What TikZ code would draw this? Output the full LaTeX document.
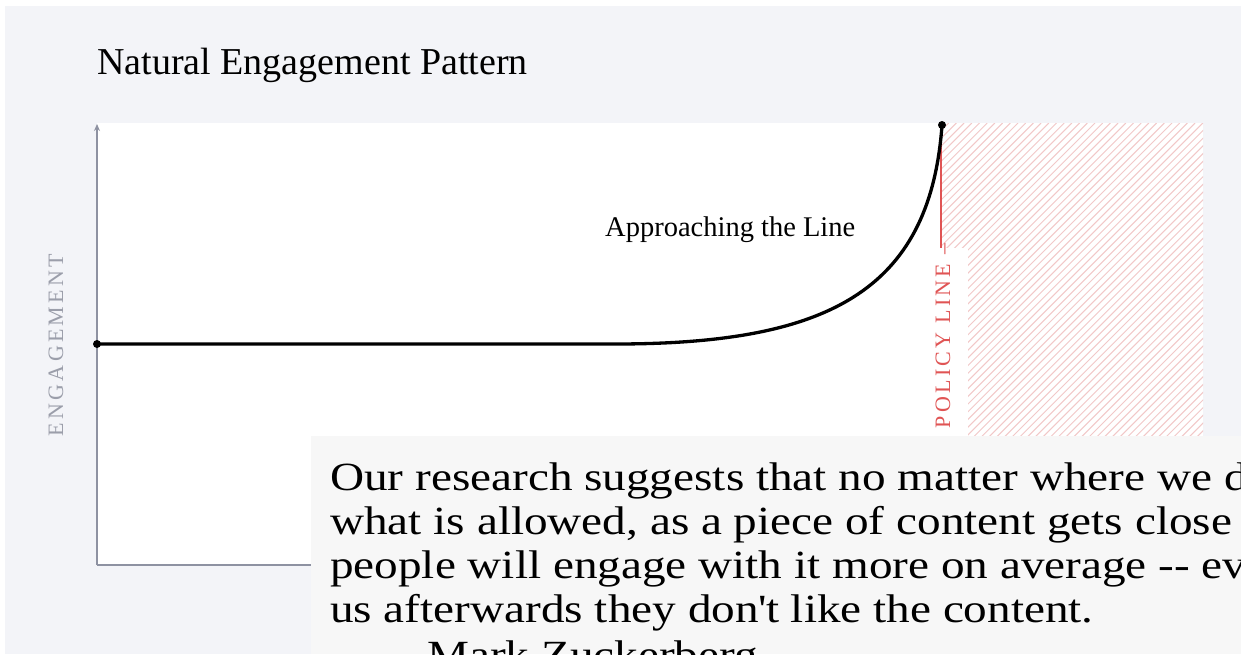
\documentclass[tikz,border=0pt]{standalone}
\usepackage{fontspec}
\setmainfont{Liberation Serif}
\usetikzlibrary{arrows.meta}
\definecolor{pagebg}{RGB}{243,244,248}
\definecolor{quotebg}{RGB}{247,247,247}
\definecolor{axisgray}{RGB}{142,146,162}
\definecolor{labelgray}{RGB}{155,158,170}
\definecolor{policyred}{RGB}{224,84,84}
\definecolor{hatchpink}{RGB}{242,200,200}

\begin{document}
\begin{tikzpicture}[x=1pt,y=-1pt,
  axisline/.style={draw=axisgray,line width=1.5pt},
  curveline/.style={line width=3.3pt,line cap=round,line join=round},
  spaced/.style={inner sep=0,font=\fontsize{22}{22}\selectfont\addfontfeature{LetterSpace=15}},
  quotetext/.style={inner sep=0,font=\fontsize{40}{44}\selectfont\addfontfeature{FakeStretch=1.18}}]
  \useasboundingbox (0,0) rectangle (1241,654);
  \clip (0,0) rectangle (1241,654);

  % Draw background
  \fill[pagebg] (5,6) rectangle (1241,654);
  \fill[white] (97,123) rectangle (941,565);

  % Hatched region past the line
  \begin{scope}
    \clip (941,123) rectangle (1203,565);
    \fill[white] (941,123) rectangle (1203,565);
    \foreach \i in {0,...,92}
      \draw[hatchpink,line width=1pt] (499+7.7*\i,565) -- ++(442,-442);
  \end{scope}

  % Draw axes
  \coordinate (origin) at (97,565);
  \coordinate (ytop) at (97,124);
  \coordinate (xend) at (941,565);
  \draw[axisline,-{Stealth[length=7pt,width=6pt]}] (origin) -- (ytop);
  \draw[axisline] (origin) -- (xend);

  % Policy line
  \coordinate (ptop) at (941,125);
  \coordinate (pbot) at (941,565);
  \draw[policyred,line width=1.5pt] (ptop) -- (pbot);
  \fill[white] (932,248) rectangle (968,565);
  \node[rotate=90,anchor=base,text=policyred,spaced] (policy) at (950,346) {– POLICY LINE –};

  % Engagement curve
  \coordinate (start) at (97,344);
  \coordinate (bend) at (615,344);
  \coordinate (peak) at (942,125);
  \draw[curveline] (start) -- (bend) .. controls (825,344) and (930,293) .. (peak);
  \fill (start) circle (4pt);
  \fill (peak) circle (4pt);

  % Labels
  \node[anchor=base west,inner sep=0,font=\fontsize{38}{42}\selectfont] (title) at (97,74) {Natural Engagement Pattern};
  \node[anchor=base west,inner sep=0,font=\fontsize{28.5}{32}\selectfont] (approach) at (605,236) {Approaching the Line};
  \node[rotate=90,text=labelgray,spaced] (ylabel) at (56,345) {ENGAGEMENT};

  % Quote box
  \fill[quotebg] (311,436) rectangle (1241,654);
  \node[quotetext,anchor=base west] (q1) at (330,490) {Our research suggests that no matter where we draw the lines for};
  \node[quotetext,anchor=base west] (q2) at (330,534) {what is allowed, as a piece of content gets close to that line,};
  \node[quotetext,anchor=base west] (q3) at (330,578) {people will engage with it more on average {-}{-} even when they tell};
  \node[quotetext,anchor=base west] (q4) at (330,622) {us afterwards they don\textquotesingle t like the content.};
  \node[quotetext,anchor=base west] (author) at (427,668) {Mark Zuckerberg};
\end{tikzpicture}
\end{document}
